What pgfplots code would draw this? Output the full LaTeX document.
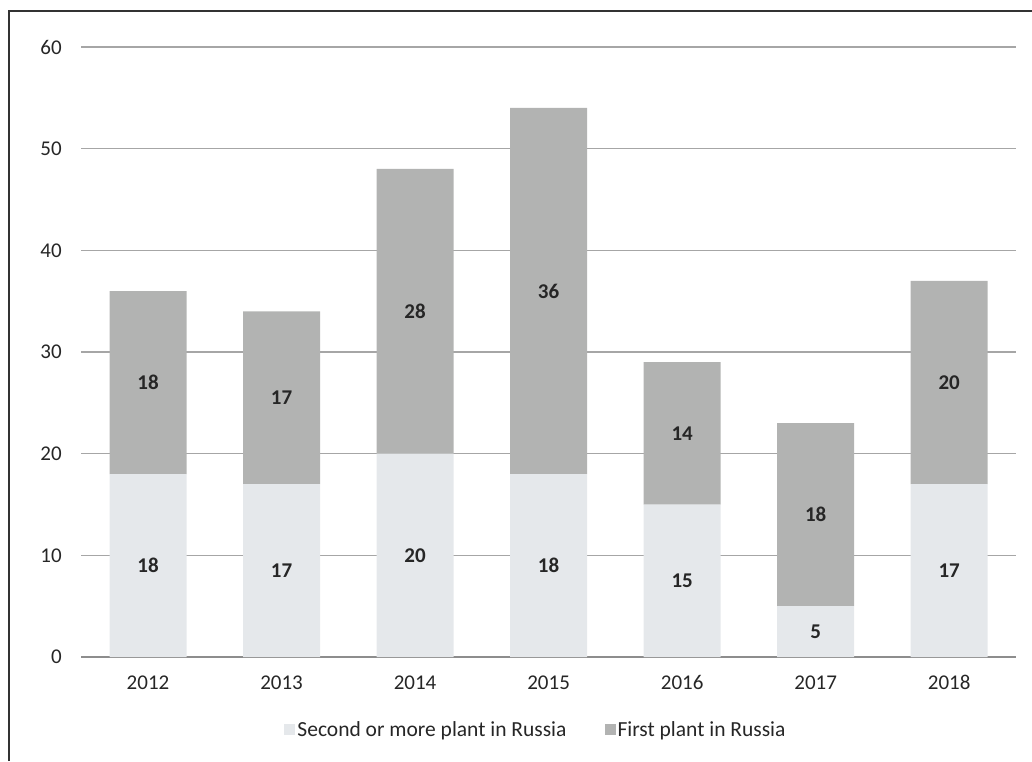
\documentclass[border=0pt]{standalone}
\usepackage{pgfplots}
\pgfplotsset{compat=1.18}
\usepackage{fontspec}
\setmainfont{Carlito}
\definecolor{marble}{RGB}{229,232,235}
\definecolor{topgray}{RGB}{178,179,178}
\definecolor{gridgray}{RGB}{166,166,166}
\definecolor{txt}{RGB}{38,38,38}
\begin{document}
\begin{tikzpicture}[x=1pt,y=1pt]
\useasboundingbox (0,0) rectangle (1032,761);
\draw[line width=1.5pt, black!80] (9,0) -- (9,750) -- (1032,750);
\begin{axis}[
  at={(81.25pt,104pt)}, anchor=south west,
  scale only axis, width=934.75pt, height=610pt,
  ybar stacked, bar width=77pt,
  xmin=2011.5, xmax=2018.5, ymin=0, ymax=60,
  xtick=data, ytick={0,10,...,60},
  axis line style={draw=none},
  major tick length=0pt,
  ymajorgrids, grid style={gridgray, line width=1.5pt},
  /pgf/number format/1000 sep={},
  /pgf/number format/assume math mode=true,
  tick label style={font=\fontsize{21}{24}\selectfont, text=txt},
  yticklabel style={anchor=east, xshift=-16pt},
  xticklabel style={yshift=-15pt, text height=14pt, text depth=0pt},
  legend style={at={(0.4865,-0.12)}, anchor=center, draw=none, legend columns=2,
    font=\fontsize{21.5}{24}\selectfont, text=txt,
    /tikz/every even column/.append style={column sep=36pt}},
  nodes near coords,
  every node near coord/.append style={anchor=center, font=\fontsize{21}{24}\selectfont\bfseries, text=txt},
  extra y ticks={0}, extra y tick labels={},
  extra y tick style={grid style={gridgray!85!black, line width=1.8pt}},
]
\addplot+[fill=marble, draw=none, legend image code/.code={\fill[marble] (-4pt,-5pt) rectangle (7pt,6pt);}] coordinates {
(2012,18) (2013,17) (2014,20) (2015,18) (2016,15) (2017,5) (2018,17)};
\addlegendentry{Second or more plant in Russia}
\addplot+[fill=topgray, draw=none, legend image code/.code={\fill[topgray] (-4pt,-5pt) rectangle (7pt,6pt);}] coordinates {
(2012,18) (2013,17) (2014,28) (2015,36) (2016,14) (2017,18) (2018,20)};
\addlegendentry{First plant in Russia}
\end{axis}
\end{tikzpicture}
\end{document}
